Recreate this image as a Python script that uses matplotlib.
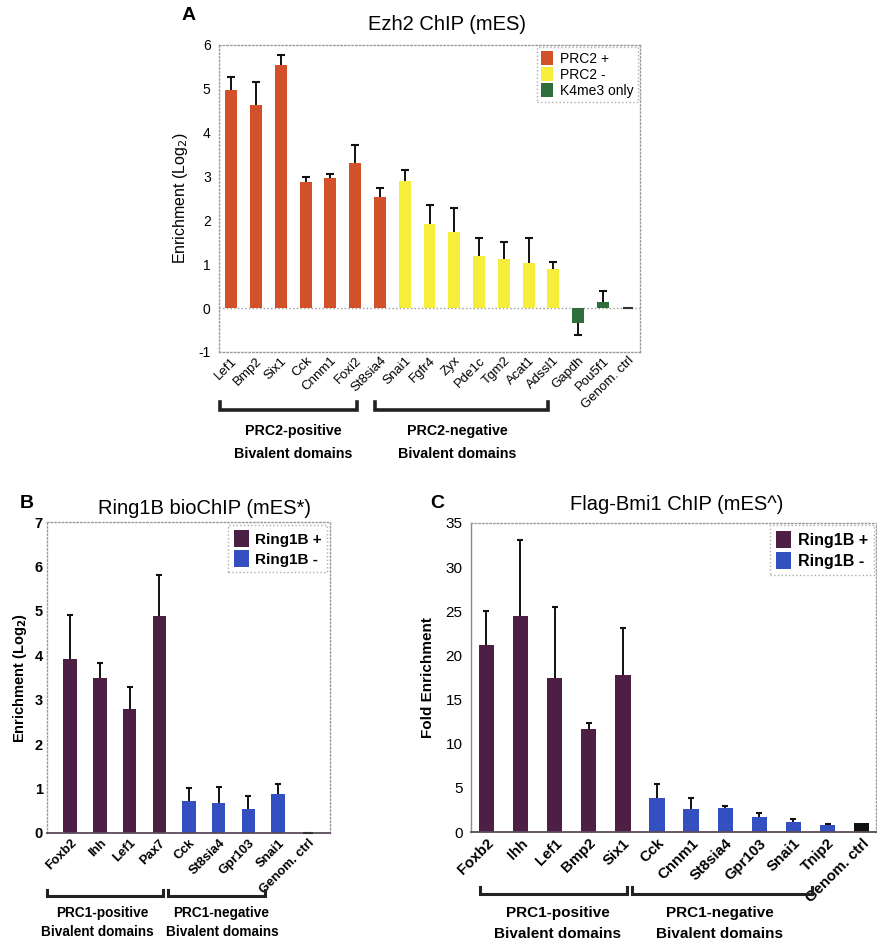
import matplotlib
matplotlib.use("Agg")
import matplotlib.pyplot as plt
from matplotlib.lines import Line2D
from matplotlib.patches import Patch
from matplotlib.ticker import FuncFormatter

plt.rcParams['font.family'] = ['Liberation Sans', 'DejaVu Sans']

# ---------------- Data ----------------
a_genes = ["Lef1", "Bmp2", "Six1", "Cck", "Cnnm1", "Foxi2", "St8sia4", "Snai1", "Fgfr4",
           "Zyx", "Pde1c", "Tgm2", "Acat1", "Adssl1", "Gapdh", "Pou5f1", "Genom. ctrl"]
a_values = [4.98, 4.63, 5.55, 2.88, 2.97, 3.32, 2.53, 2.90, 1.92, 1.73, 1.18, 1.13, 1.02, 0.90, -0.33, 0.13, 0.0]
a_errors = [0.30, 0.52, 0.22, 0.10, 0.10, 0.41, 0.20, 0.25, 0.44, 0.56, 0.43, 0.37, 0.59, 0.16, 0.29, 0.26, 0.0]
a_groups = ["PRC2 +"] * 7 + ["PRC2 -"] * 7 + ["K4me3 only"] * 2 + ["ctrl"]

b_genes = ["Foxb2", "Ihh", "Lef1", "Pax7", "Cck", "St8sia4", "Gpr103", "Snai1", "Genom. ctrl"]
b_values = [3.92, 3.48, 2.78, 4.88, 0.73, 0.68, 0.53, 0.88, 0.0]
b_errors = [0.98, 0.35, 0.50, 0.92, 0.29, 0.35, 0.31, 0.22, 0.0]
b_groups = ["Ring1B +"] * 4 + ["Ring1B -"] * 4 + ["ctrl"]

c_genes = ["Foxb2", "Ihh", "Lef1", "Bmp2", "Six1", "Cck", "Cnnm1", "St8sia4", "Gpr103",
           "Snai1", "Tnip2", "Genom. ctrl"]
c_values = [21.2, 24.5, 17.4, 11.7, 17.8, 3.9, 2.6, 2.7, 1.75, 1.1, 0.83, 1.0]
c_errors = [3.8, 8.6, 8.1, 0.6, 5.3, 1.5, 1.25, 0.3, 0.42, 0.35, 0.07, 0.0]
c_groups = ["Ring1B +"] * 5 + ["Ring1B -"] * 6 + ["ctrl"]

colors_a = {"PRC2 +": "#d2502a", "PRC2 -": "#f6ee3a", "K4me3 only": "#2f6e3a", "ctrl": "#555555"}
colors_bc = {"Ring1B +": "#4e1f45", "Ring1B -": "#3450c0", "ctrl": "#111111"}

W, H = 878, 942
fig = plt.figure(figsize=(W / 100, H / 100), dpi=100)


def ax_rect(l, t, r, b):
    return [l / W, 1 - b / H, (r - l) / W, (b - t) / H]


def fx(x):
    return x / W


def fy(y):
    return 1 - y / H


def style_frame(ax, solid_bottom=False, solid_left=False):
    for name, sp in ax.spines.items():
        sp.set_color("#9a9a9a")
        sp.set_linewidth(1.0)
        sp.set_linestyle(":")
    if solid_bottom:
        ax.spines['bottom'].set_linestyle("-")
        ax.spines['bottom'].set_color("#5a4a5a")
        ax.spines['bottom'].set_linewidth(1.3)
    if solid_left:
        ax.spines['left'].set_linestyle("-")
        ax.spines['left'].set_color("#8a8a8a")
    ax.tick_params(length=0)


def draw_bars(ax, values, errors, groups, cmap, width, capms=6):
    xs = list(range(len(values)))
    cols = [cmap[g] for g in groups]
    lower = [e if v < 0 else 0 for v, e in zip(values, errors)]
    upper = [e if v >= 0 else 0 for v, e in zip(values, errors)]
    ax.bar(xs, values, width=width, color=cols, edgecolor='none', zorder=2)
    ax.errorbar(xs, values, yerr=[lower, upper], fmt='none', ecolor='#111111',
                elinewidth=1.4, capsize=0, zorder=3)
    cx = [x for x, e in zip(xs, errors) if e > 0]
    cy = [v + e if v >= 0 else v - e for v, e in zip(values, errors) if e > 0]
    ax.plot(cx, cy, ls='none', marker='_', ms=capms, mew=1.5, color='#111111', zorder=3)
    # zero-height bars are shown as a short dash
    zx = [x for x, v in zip(xs, values) if v == 0]
    zy = [0 for v in values if v == 0]
    ax.plot(zx, zy, ls='none', marker='_', ms=7, mew=1.5, color='#333333', zorder=3,
            clip_on=False)
    return xs


def bracket(x1, x2, ybase, ytip, lw=2.6):
    fig.add_artist(Line2D([fx(x1), fx(x1), fx(x2), fx(x2)],
                          [fy(ytip), fy(ybase), fy(ybase), fy(ytip)],
                          transform=fig.transFigure, color='#222222', lw=lw,
                          solid_joinstyle='miter'))


hy = FuncFormatter(lambda v, p: f"{int(v)}")

# ---------------- Panel A ----------------
axA = fig.add_axes(ax_rect(219, 45, 640, 352))
xs = draw_bars(axA, a_values, a_errors, a_groups, colors_a, 0.48)
axA.set_xlim(-0.5, len(a_values) - 0.5)
axA.set_ylim(-1, 6)
axA.set_yticks(range(-1, 7))
axA.yaxis.set_major_formatter(hy)
axA.axhline(0, color='#9a9a9a', lw=1.0, ls=':', zorder=1)
axA.set_xticks(xs)
axA.set_xticklabels(a_genes, rotation=45, ha='right', rotation_mode='anchor', fontsize=9.5)
axA.tick_params(axis='y', labelsize=10, pad=6)
axA.tick_params(axis='x', pad=2)
style_frame(axA)
axA.set_ylabel("Enrichment (Log$_2$)", fontsize=11.5, labelpad=6)
fig.text(fx(447), fy(25), "Ezh2 ChIP (mES)", fontsize=14.5, ha='center', va='center')
fig.text(fx(189), fy(15), "A", fontsize=14, fontweight='bold', ha='center', va='center')
hA = [Patch(facecolor=colors_a[k], edgecolor='none', label=k) for k in ["PRC2 +", "PRC2 -", "K4me3 only"]]
legA = axA.legend(handles=hA, loc='upper right', fontsize=10, frameon=True, fancybox=False,
                  borderaxespad=0.15, handlelength=0.9, handleheight=1.1, handletextpad=0.5,
                  labelspacing=0.12, borderpad=0.3)
legA.get_frame().set_edgecolor('#9a9a9a')
legA.get_frame().set_linestyle(':')
legA.get_frame().set_linewidth(1.0)

bracket(220, 357, 410, 402)
bracket(375, 548, 410, 402)
fig.text(fx(293), fy(431), "PRC2-positive", fontsize=10.3, fontweight='bold', ha='center', va='center')
fig.text(fx(293), fy(454), "Bivalent domains", fontsize=10.3, fontweight='bold', ha='center', va='center')
fig.text(fx(457), fy(431), "PRC2-negative", fontsize=10.3, fontweight='bold', ha='center', va='center')
fig.text(fx(457), fy(454), "Bivalent domains", fontsize=10.3, fontweight='bold', ha='center', va='center')

# ---------------- Panel B ----------------
axB = fig.add_axes(ax_rect(47, 522, 330, 833))
xs = draw_bars(axB, b_values, b_errors, b_groups, colors_bc, 0.45, capms=5)
axB.set_xlim(-0.78, len(b_values) - 0.25)
axB.set_ylim(0, 7)
axB.set_yticks(range(0, 8))
axB.set_xticks(xs)
axB.set_xticklabels(b_genes, rotation=45, ha='right', rotation_mode='anchor', fontsize=9.3,
                    fontweight='bold')
axB.tick_params(axis='y', labelsize=10.5, pad=3)
for t in axB.get_yticklabels():
    t.set_fontweight('bold')
axB.tick_params(axis='x', pad=3)
style_frame(axB, solid_bottom=True)
axB.set_ylabel("Enrichment (Log$_\\mathbf{2}$)", fontsize=10.5, fontweight='bold', labelpad=4)
fig.text(fx(205), fy(508), "Ring1B bioChIP (mES*)", fontsize=14.5, ha='center', va='center')
fig.text(fx(27), fy(503), "B", fontsize=14, fontweight='bold', ha='center', va='center')
hB = [Patch(facecolor=colors_bc[k], edgecolor='none', label=k) for k in ["Ring1B +", "Ring1B -"]]
legB = axB.legend(handles=hB, loc='upper right', prop={'size': 11, 'weight': 'bold'},
                  frameon=True, fancybox=False, borderaxespad=0.2, handlelength=1.0,
                  handleheight=1.3, handletextpad=0.4, labelspacing=0.2, borderpad=0.35)
legB.get_frame().set_edgecolor('#9a9a9a')
legB.get_frame().set_linestyle(':')

bracket(47, 163, 896, 890, lw=2.2)
bracket(168, 265, 896, 890, lw=2.2)
fig.text(fx(102), fy(913), "PRC1-positive", fontsize=9.8, fontweight='bold', ha='center', va='center')
fig.text(fx(97), fy(932), "Bivalent domains", fontsize=9.8, fontweight='bold', ha='center', va='center')
fig.text(fx(221), fy(913), "PRC1-negative", fontsize=9.8, fontweight='bold', ha='center', va='center')
fig.text(fx(222), fy(932), "Bivalent domains", fontsize=9.8, fontweight='bold', ha='center', va='center')

# ---------------- Panel C ----------------
axC = fig.add_axes(ax_rect(471, 523, 876, 832))
xs = draw_bars(axC, c_values, c_errors, c_groups, colors_bc, 0.45, capms=5)
axC.set_xlim(-0.45, len(c_values) - 0.58)
axC.set_ylim(0, 35)
axC.set_yticks(range(0, 36, 5))
axC.set_xticks(xs)
axC.set_xticklabels(c_genes, rotation=45, ha='right', rotation_mode='anchor', fontsize=10.8,
                    fontweight='bold')
axC.tick_params(axis='y', labelsize=11, pad=6)
axC.tick_params(axis='x', pad=3)
style_frame(axC, solid_bottom=True, solid_left=True)
axC.set_ylabel("Fold Enrichment", fontsize=11, fontweight='bold', labelpad=8)
fig.text(fx(677), fy(505), "Flag-Bmi1 ChIP (mES^)", fontsize=14.5, ha='center', va='center')
fig.text(fx(437), fy(503), "C", fontsize=14, fontweight='bold', ha='center', va='center')
hC = [Patch(facecolor=colors_bc[k], edgecolor='none', label=k) for k in ["Ring1B +", "Ring1B -"]]
legC = axC.legend(handles=hC, loc='upper right', prop={'size': 11.5, 'weight': 'bold'},
                  frameon=True, fancybox=False, borderaxespad=0.15, handlelength=1.0,
                  handleheight=1.3, handletextpad=0.4, labelspacing=0.2, borderpad=0.35)
legC.get_frame().set_edgecolor('#9a9a9a')
legC.get_frame().set_linestyle(':')

bracket(480, 627, 894, 887, lw=2.2)
bracket(632, 812, 894, 887, lw=2.2)
fig.text(fx(558), fy(913), "PRC1-positive", fontsize=11, fontweight='bold', ha='center', va='center')
fig.text(fx(558), fy(934), "Bivalent domains", fontsize=11, fontweight='bold', ha='center', va='center')
fig.text(fx(720), fy(913), "PRC1-negative", fontsize=11, fontweight='bold', ha='center', va='center')
fig.text(fx(720), fy(934), "Bivalent domains", fontsize=11, fontweight='bold', ha='center', va='center')

fig.savefig("out.png", dpi=100, facecolor='white')
